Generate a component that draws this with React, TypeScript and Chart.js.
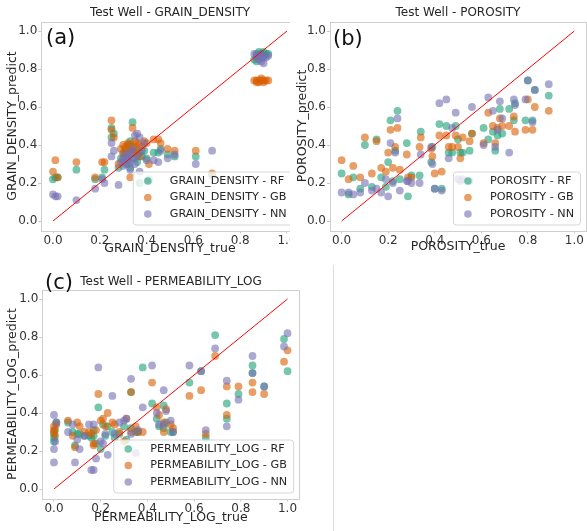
import React, { useEffect, useRef } from "react";
import { Chart, registerables } from "chart.js";
Chart.register(...registerables);

const FONT = "'DejaVu Sans', sans-serif";
const modelNames = ["RF", "GB", "NN"];
const modelColors = ["rgba(27,158,119,0.6)", "rgba(217,95,2,0.6)", "rgba(117,112,179,0.6)"];
const tickValues = [0, 0.2, 0.4, 0.6, 0.8, 1.0];
const identityLine = [0, 1];

// (a) GRAIN_DENSITY
const grainTrue = [0.00,0.01,0.02,0.10,0.18,0.21,0.22,0.25,0.25,0.26,0.28,0.29,0.30,0.30,0.31,0.31,0.32,0.32,0.33,0.33,0.33,0.34,0.34,0.35,0.35,0.36,0.36,0.37,0.37,0.38,0.39,0.40,0.41,0.43,0.45,0.46,0.49,0.52,0.61,0.68,0.86,0.87,0.87,0.88,0.88,0.89,0.89,0.90,0.90,0.91,0.92];
const grainRF = [0.22,0.23,0.23,0.27,0.22,0.23,0.27,0.49,0.44,0.46,0.28,0.33,0.36,0.31,0.38,0.34,0.30,0.40,0.35,0.28,0.42,0.52,0.37,0.33,0.39,0.35,0.31,0.36,0.20,0.34,0.37,0.33,0.22,0.36,0.36,0.38,0.35,0.34,0.34,0.24,0.85,0.88,0.84,0.87,0.89,0.86,0.88,0.87,0.89,0.88,0.88];
const grainGB = [0.26,0.32,0.23,0.31,0.23,0.31,0.31,0.53,0.48,0.44,0.30,0.38,0.40,0.35,0.39,0.36,0.37,0.41,0.38,0.23,0.40,0.49,0.39,0.36,0.42,0.41,0.37,0.40,0.34,0.39,0.42,0.41,0.30,0.43,0.43,0.41,0.38,0.37,0.37,0.25,0.74,0.74,0.73,0.73,0.74,0.75,0.74,0.73,0.74,0.74,0.74];
const grainNN = [0.14,0.13,0.13,0.11,0.17,0.22,0.20,0.34,0.41,0.37,0.19,0.31,0.33,0.29,0.35,0.30,0.32,0.34,0.36,0.27,0.31,0.38,0.33,0.45,0.30,0.46,0.34,0.44,0.26,0.37,0.41,0.32,0.21,0.32,0.31,0.37,0.33,0.35,0.30,0.37,0.88,0.86,0.87,0.85,0.87,0.84,0.88,0.86,0.83,0.86,0.87];

// (b) POROSITY
const porTrue = [0.00,0.03,0.05,0.08,0.10,0.13,0.15,0.17,0.19,0.20,0.21,0.22,0.23,0.24,0.25,0.28,0.285,0.30,0.34,0.335,0.39,0.385,0.40,0.42,0.43,0.45,0.46,0.475,0.49,0.50,0.51,0.52,0.55,0.56,0.61,0.63,0.65,0.66,0.67,0.68,0.69,0.72,0.74,0.745,0.79,0.80,0.82,0.83,0.89];
const porRF = [0.25,0.14,0.23,0.17,0.40,0.18,0.43,0.23,0.18,0.31,0.53,0.21,0.37,0.58,0.22,0.41,0.13,0.24,0.47,0.24,0.39,0.31,0.17,0.51,0.17,0.50,0.36,0.36,0.50,0.43,0.36,0.36,0.37,0.46,0.49,0.43,0.47,0.37,0.45,0.59,0.46,0.59,0.53,0.62,0.53,0.74,0.53,0.69,0.66];
const porGB = [0.32,0.22,0.29,0.23,0.44,0.25,0.42,0.28,0.26,0.36,0.48,0.28,0.39,0.49,0.27,0.35,0.23,0.23,0.44,0.39,0.34,0.38,0.25,0.45,0.26,0.45,0.39,0.39,0.45,0.39,0.33,0.44,0.42,0.46,0.41,0.57,0.50,0.41,0.49,0.54,0.50,0.50,0.55,0.47,0.48,0.64,0.48,0.60,0.58];
const porNN = [0.15,0.15,0.14,0.15,0.20,0.16,0.17,0.15,0.22,0.13,0.41,0.20,0.36,0.54,0.16,0.21,0.21,0.20,0.35,0.20,0.30,0.39,0.17,0.62,0.16,0.64,0.33,0.49,0.57,0.22,0.21,0.22,0.21,0.60,0.40,0.65,0.58,0.39,0.48,0.63,0.54,0.36,0.64,0.61,0.64,0.74,0.52,0.69,0.72];

// (c) PERMEABILITY_LOG
const permTrue = [0.00,0.00,0.00,0.005,0.01,0.06,0.08,0.09,0.10,0.11,0.13,0.15,0.16,0.17,0.17,0.18,0.19,0.20,0.21,0.23,0.22,0.25,0.26,0.28,0.30,0.31,0.33,0.33,0.35,0.36,0.38,0.42,0.44,0.45,0.47,0.47,0.48,0.50,0.51,0.58,0.63,0.65,0.69,0.74,0.74,0.79,0.85,0.85,0.90,0.985,1.00];
const permRF = [0.29,0.25,0.27,0.31,0.35,0.35,0.30,0.23,0.29,0.29,0.28,0.28,0.27,0.31,0.28,0.24,0.43,0.21,0.34,0.33,0.28,0.30,0.27,0.29,0.33,0.26,0.51,0.32,0.30,0.30,0.64,0.45,0.37,0.33,0.44,0.32,0.35,0.30,0.30,0.56,0.62,0.27,0.81,0.45,0.37,0.50,0.65,0.61,0.54,0.79,0.62];
const permGB = [0.33,0.31,0.30,0.28,0.34,0.36,0.28,0.22,0.35,0.33,0.30,0.30,0.29,0.23,0.24,0.31,0.50,0.36,0.37,0.40,0.33,0.35,0.34,0.30,0.25,0.37,0.51,0.30,0.33,0.30,0.30,0.56,0.43,0.39,0.35,0.30,0.42,0.34,0.32,0.49,0.52,0.29,0.70,0.54,0.39,0.54,0.56,0.51,0.50,0.67,0.73];
const permNN = [0.39,0.21,0.14,0.25,0.35,0.30,0.34,0.14,0.26,0.21,0.28,0.34,0.10,0.10,0.34,0.16,0.64,0.25,0.24,0.18,0.29,0.49,0.29,0.35,0.36,0.37,0.58,0.29,0.19,0.31,0.43,0.65,0.40,0.34,0.52,0.34,0.41,0.36,0.30,0.65,0.62,0.31,0.74,0.57,0.33,0.47,0.70,0.61,0.54,0.75,0.82];

type PanelDef = {
  title: string; letter: string; xLabel: string; yLabel: string; prefix: string;
  xs: number[]; series: number[][];
  left: number; top: number; W: number; H: number; clipW: number; clipH: number;
  area: { l: number; t: number; r: number; b: number };
  titleX: number; titleY: number; letterX: number; letterY: number; xLabelY: number; yLabelX: number;
};

const panels: PanelDef[] = [
  {
    title: "Test Well - GRAIN_DENSITY", letter: "(a)", xLabel: "GRAIN_DENSITY_true", yLabel: "GRAIN_DENSITY_predict", prefix: "GRAIN_DENSITY",
    xs: grainTrue, series: [grainRF, grainGB, grainNN],
    left: 0, top: 0, W: 310, H: 262, clipW: 290, clipH: 262,
    area: { l: 41.3, t: 21.5, r: 298.7, b: 230.5 },
    titleX: 170, titleY: 13, letterX: 46, letterY: 39, xLabelY: 249, yLabelX: 13,
  },
  {
    title: "Test Well - POROSITY", letter: "(b)", xLabel: "POROSITY_true", yLabel: "POROSITY_predict", prefix: "POROSITY",
    xs: porTrue, series: [porRF, porGB, porNN],
    left: 290, top: 0, W: 300, H: 262, clipW: 297, clipH: 262,
    area: { l: 40, t: 21.5, r: 298.75, b: 230.5 },
    titleX: 168, titleY: 13, letterX: 43, letterY: 40, xLabelY: 247, yLabelX: 13,
  },
  {
    title: "Test Well - PERMEABILITY_LOG", letter: "(c)", xLabel: "PERMEABILITY_LOG_true", yLabel: "PERMEABILITY_LOG_predict", prefix: "PERMEABILITY_LOG",
    xs: permTrue, series: [permRF, permGB, permNN],
    left: 0, top: 262, W: 333, H: 269, clipW: 333, clipH: 269,
    area: { l: 42.3, t: 27.5, r: 299.2, b: 236.5 },
    titleX: 171, titleY: 20, letterX: 45, letterY: 22, xLabelY: 256, yLabelX: 13,
  },
];

function ScatterPanel({ p }: { p: PanelDef }) {
  const ref = useRef<HTMLCanvasElement>(null);
  useEffect(() => {
    if (!ref.current) return;
    const decor = {
      id: "decor",
      beforeDatasetsDraw(chart: any) {
        const ctx = chart.ctx; const a = chart.chartArea;
        ctx.save();
        ctx.strokeStyle = "#cfcfcf"; ctx.lineWidth = 1;
        ctx.strokeRect(Math.round(a.left) + 0.5, Math.round(a.top) + 0.5, Math.round(a.right - a.left), Math.round(a.bottom - a.top));
        ctx.restore();
      },
      afterDraw(chart: any) {
        const ctx = chart.ctx; const a = chart.chartArea;
        ctx.save();
        ctx.fillStyle = "#262626";
        ctx.textBaseline = "middle";
        // title
        ctx.font = `12px ${FONT}`; ctx.textAlign = "center";
        ctx.fillText(p.title, p.titleX, p.titleY);
        // axis labels
        ctx.font = `12.5px ${FONT}`;
        ctx.fillText(p.xLabel, (a.left + a.right) / 2, p.xLabelY);
        ctx.save();
        ctx.translate(p.yLabelX, (a.top + a.bottom) / 2);
        ctx.rotate(-Math.PI / 2);
        ctx.fillText(p.yLabel, 0, 0);
        ctx.restore();
        // legend
        ctx.font = `11.2px ${FONT}`;
        const labels = modelNames.map((m) => `${p.prefix} - ${m}`);
        const tw = Math.max(...labels.map((l) => ctx.measureText(l).width));
        const bw = tw + 43; const bh = 53;
        const bx = a.right - 6 - bw; const by = a.bottom - 6 - bh;
        ctx.beginPath();
        if ((ctx as any).roundRect) (ctx as any).roundRect(bx + 0.5, by + 0.5, bw, bh, 3); else ctx.rect(bx + 0.5, by + 0.5, bw, bh);
        ctx.fillStyle = "rgba(255,255,255,0.8)"; ctx.fill();
        ctx.strokeStyle = "#d6d6d6"; ctx.lineWidth = 1; ctx.stroke();
        labels.forEach((l, i) => {
          const cy = by + 9.5 + i * 16.5;
          ctx.beginPath(); ctx.arc(bx + 15, cy, 3.8, 0, Math.PI * 2);
          ctx.fillStyle = modelColors[i]; ctx.fill();
          ctx.fillStyle = "#262626"; ctx.textAlign = "left";
          ctx.fillText(l, bx + 37, cy);
        });
        // panel letter
        ctx.font = `21px ${FONT}`; ctx.fillStyle = "#111"; ctx.textAlign = "left";
        ctx.fillText(p.letter, p.letterX, p.letterY);
        ctx.restore();
      },
    };
    const datasets: any[] = [
      {
        type: "scatter",
        data: identityLine.map((v) => ({ x: v, y: v })),
        showLine: true, borderColor: "#ff0000", borderWidth: 1, pointRadius: 0, order: 0,
      },
      ...p.series.map((ys, k) => ({
        type: "scatter",
        label: `${p.prefix} - ${modelNames[k]}`,
        data: p.xs.map((x, i) => ({ x, y: ys[i] })),
        backgroundColor: modelColors[k], borderWidth: 0, pointRadius: 3.9, order: 3 - k,
      })),
    ];
    const axisCommon = (isX: boolean) => ({
      type: "linear",
      min: -0.05, max: 1.05,
      afterBuildTicks: (s: any) => { s.ticks = tickValues.map((v) => ({ value: v })); },
      afterFit: (s: any) => {
        if (isX) s.height = p.H - p.area.b; else s.width = p.area.l;
        s.paddingLeft = 0; s.paddingRight = 0; s.paddingTop = 0; s.paddingBottom = 0;
      },
      grid: { drawOnChartArea: false, drawTicks: true, tickLength: 3, color: "#c8c8c8" },
      border: { display: false },
      ticks: {
        font: { family: FONT, size: 12 }, color: "#333", padding: isX ? 0 : 1,
        maxRotation: 0, autoSkip: false, includeBounds: false,
        callback: (v: any) => Number(v).toFixed(1),
      },
    });
    const chart = new Chart(ref.current, {
      type: "scatter",
      data: { datasets },
      options: {
        animation: false, responsive: false, devicePixelRatio: 1,
        layout: { padding: { left: 0, top: p.area.t, right: p.W - p.area.r, bottom: 0 } },
        plugins: { legend: { display: false }, tooltip: { enabled: false }, title: { display: false } },
        scales: { x: axisCommon(true) as any, y: axisCommon(false) as any },
      },
      plugins: [decor],
    });
    return () => chart.destroy();
  }, [p]);
  return (
    <div style={{ position: "absolute", left: p.left, top: p.top, width: p.clipW, height: p.clipH, overflow: "hidden" }}>
      <canvas ref={ref} width={p.W} height={p.H} style={{ display: "block", width: p.W, height: p.H }} />
    </div>
  );
}

export default function App() {
  return (
    <div style={{ position: "fixed", left: 0, top: 0, width: 587, height: 531, overflow: "hidden", background: "#fff" }}>
      {panels.map((p, i) => <ScatterPanel key={i} p={p} />)}
      <div style={{ position: "absolute", left: 333, top: 265, width: 1, height: 266, background: "#dcdcdc" }} />
    </div>
  );
}
